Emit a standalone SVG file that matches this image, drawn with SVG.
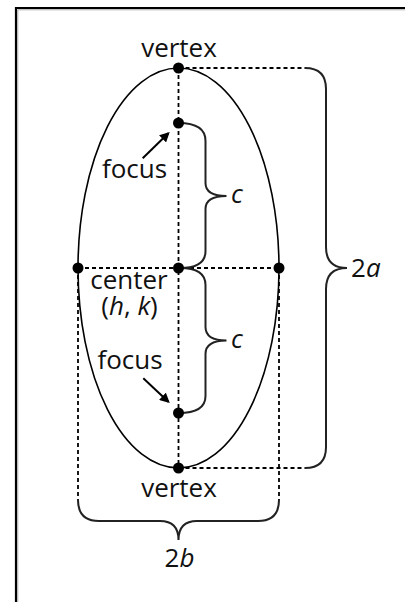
<svg xmlns="http://www.w3.org/2000/svg" width="405" height="602" viewBox="0 0 405 602">
<style>
.t{font-family:"Open Sans","Noto Sans","Liberation Sans",sans-serif;font-size:26px;fill:#111}
.i{font-style:italic}
.dash{fill:none;stroke:#000;stroke-width:1.8;stroke-dasharray:4 3}
.solid{fill:none;stroke:#000;stroke-width:1.6}
.br{fill:none;stroke:#222;stroke-width:2}
.dot{fill:#000}
</style>
<defs>
<marker id="ah" markerWidth="10" markerHeight="10" refX="8" refY="5" orient="auto" markerUnits="userSpaceOnUse" viewBox="0 0 10 10">
<path d="M0,0 L10,5 L0,10 z" fill="#000"/>
</marker>
</defs>
<rect width="405" height="602" fill="#fff"/>
<g id="frame">
<path d="M16 602 V8 H405" fill="none" stroke="#000" stroke-width="2.2"/>
<path d="M17.8 602 V9.8 H405" fill="none" stroke="#aaa" stroke-width="1"/>
</g>
<g id="connectors">
<ellipse cx="178.5" cy="268" rx="100.5" ry="200" class="solid"/>
<path class="dash" d="M178.5 68 V468 M78 268 H279 M178.5 68 H305 M178.5 468 H305 M78 268 V500 M279 268 V500"/>
<path class="br" d="M305 68 Q326 68 326 89 L326 247 Q326 268 347 268 Q326 268 326 289 L326 447 Q326 468 305 468"/>
<path class="br" d="M178.5 123 Q205.5 123 205.5 141 L205.5 183 Q205.5 196 226.5 196 Q205.5 196 205.5 209 L205.5 251 Q205.5 268 180 268"/>
<path class="br" d="M180 268 Q205.5 268 205.5 285 L205.5 327 Q205.5 340.5 226.5 340.5 Q205.5 340.5 205.5 354 L205.5 396 Q205.5 413 178.5 413"/>
<path class="br" d="M78 500 Q78 521 99 521 L160 521 Q178.5 521 178.5 540 Q178.5 521 197 521 L258 521 Q279 521 279 500"/>
<line x1="142.7" y1="158.3" x2="168.3" y2="133.3" stroke="#000" stroke-width="2" marker-end="url(#ah)"/>
<line x1="143.3" y1="378.3" x2="168.3" y2="401.7" stroke="#000" stroke-width="2" marker-end="url(#ah)"/>
</g>
<g id="vertex-top"><circle class="dot" cx="178.5" cy="68" r="5.5"/><text class="t" x="179" y="57" text-anchor="middle">vertex</text></g>
<g id="focus-top"><circle class="dot" cx="178.5" cy="123" r="5.5"/><text class="t" x="134.5" y="178" text-anchor="middle">focus</text></g>
<g id="center"><circle class="dot" cx="178.5" cy="268" r="5.5"/><text class="t" text-anchor="middle"><tspan x="129" y="289">center</tspan><tspan x="129.5" y="315">(<tspan class="i">h</tspan>, <tspan class="i">k</tspan>)</tspan></text></g>
<g id="left-pt"><circle class="dot" cx="78" cy="268" r="5.5"/></g>
<g id="right-pt"><circle class="dot" cx="279" cy="268" r="5.5"/></g>
<g id="focus-bottom"><circle class="dot" cx="178.5" cy="413" r="5.5"/><text class="t" x="130" y="369" text-anchor="middle">focus</text></g>
<g id="vertex-bottom"><circle class="dot" cx="178.5" cy="468" r="5.5"/><text class="t" x="179" y="497" text-anchor="middle">vertex</text></g>
<g id="label-c1"><text class="t i" x="231" y="203">c</text></g>
<g id="label-c2"><text class="t i" x="231" y="348">c</text></g>
<g id="label-2a"><text class="t" x="351" y="277">2<tspan class="i">a</tspan></text></g>
<g id="label-2b"><text class="t" x="179.5" y="567" text-anchor="middle">2<tspan class="i">b</tspan></text></g>
</svg>
